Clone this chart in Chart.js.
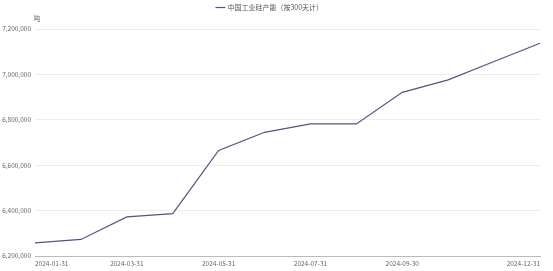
<!DOCTYPE html>
<html>
<head>
<meta charset="utf-8">
<script src="https://cdn.jsdelivr.net/npm/chart.js@4"></script>
<style>
  html, body { margin: 0; padding: 0; background: #fff; }
  #wrap { width: 553px; height: 271px; }
</style>
</head>
<body>
<div id="wrap"><canvas id="myChart"></canvas></div>
<script>
// Fechas (fin de mes) y capacidad en toneladas
const fechas = ['2024-01-31','2024-02-29','2024-03-31','2024-04-30','2024-05-31','2024-06-30',
                '2024-07-31','2024-08-31','2024-09-30','2024-10-31','2024-11-30','2024-12-31'];
const capacidad = [6258000, 6273000, 6372000, 6387000, 6665000, 6745000,
                   6782000, 6782000, 6921000, 6976000, 7057000, 7137000];
// Etiquetas visibles del eje x
const etiquetasX = ['2024-01-31','2024-03-31','2024-05-31','2024-07-31','2024-09-30','2024-12-31'];
const nombreSerie = '中国工业硅产能（按300天计）';
const unidad = '吨';

const fuente = "'Noto Sans CJK SC', 'Noto Sans', sans-serif";

// Dibuja la unidad encima del eje y
const unidadPlugin = {
    id: 'unidad',
    afterDraw(chart) {
        const ctx = chart.ctx;
        const area = chart.chartArea;
        ctx.save();
        ctx.font = "6.5px " + fuente;
        ctx.fillStyle = '#666';
        ctx.textAlign = 'center';
        ctx.textBaseline = 'middle';
        ctx.fillText(unidad, area.left + 2, area.top - 10);
        ctx.restore();
    }
};

// Espacio extra debajo de la leyenda
const margenLeyenda = {
    id: 'margenLeyenda',
    beforeInit(chart) {
        const fitOriginal = chart.legend.fit;
        chart.legend.fit = function () {
            fitOriginal.bind(chart.legend)();
            this.height += 8;
        };
    }
};

new Chart(document.getElementById('myChart'), {
    type: 'line',
    data: {
        labels: fechas,
        datasets: [{
            label: nombreSerie,
            data: capacidad,
            borderColor: '#5b4e8a',
            backgroundColor: '#5b4e8a',
            borderWidth: 1.2,
            pointRadius: 0,
            tension: 0
        }]
    },
    options: {
        responsive: true,
        maintainAspectRatio: false,
        animation: false,
        layout: { padding: { left: 0, right: 13, top: 1, bottom: 0 } },
        plugins: {
            legend: {
                position: 'top',
                labels: {
                    usePointStyle: true,
                    pointStyle: 'line',
                    boxWidth: 9,
                    color: '#555',
                    font: { size: 7, family: fuente },
                    padding: 3
                }
            },
            tooltip: { enabled: false }
        },
        scales: {
            x: {
                offset: false,
                grid: { display: false, drawTicks: false },
                border: { display: true, color: '#bbb' },
                ticks: {
                    autoSkip: false,
                    maxRotation: 0,
                    align: 'inner',
                    color: '#666',
                    font: { size: 6.5, family: fuente },
                    padding: 4,
                    callback: function (v, i) {
                        const l = fechas[i];
                        return etiquetasX.includes(l) ? l : '';
                    }
                },
                afterFit: function (s) { s.height = 15; }
            },
            y: {
                min: 6200000,
                max: 7200000,
                grid: { color: '#eeeeee', drawTicks: false },
                border: { display: false },
                ticks: {
                    stepSize: 200000,
                    color: '#666',
                    font: { size: 6.5, family: fuente },
                    padding: 4,
                    callback: v => v.toLocaleString('en-US')
                },
                afterFit: function (s) { s.width = 35; }
            }
        }
    },
    plugins: [unidadPlugin, margenLeyenda]
});
</script>
</body>
</html>
